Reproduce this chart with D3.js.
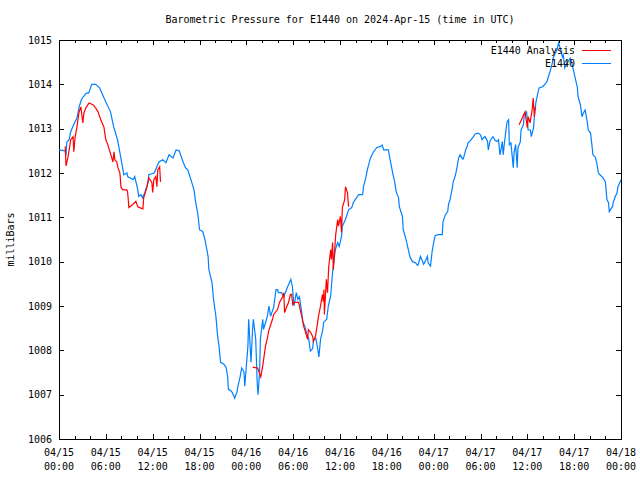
<!DOCTYPE html>
<html>
<head>
<meta charset="utf-8">
<script src="https://cdn.jsdelivr.net/npm/d3@7"></script>
<style>
  body { margin: 0; background: #fff; }
  svg text { font-family: "DejaVu Sans Mono", "Liberation Mono", monospace; font-size: 10px; fill: #000; }
</style>
</head>
<body>
<div id="root"></div>
<script>
// hours after 2024-04-15 00:00 UTC, pressure in mb
const stationData = [[0,1012.52],[0.8,1012.5],[0.9,1012.4],[1.0,1012.7],[1.3,1012.75],[1.5,1012.93],[1.9,1013.1],[2.3,1013.24],[2.6,1013.5],[2.9,1013.67],[3.5,1013.8],[3.8,1013.8],[4.2,1014.0],[4.7,1014.0],[5.2,1013.92],[5.6,1013.76],[6.0,1013.6],[6.6,1013.38],[7.0,1013.04],[7.5,1012.75],[7.8,1012.46],[8.2,1012.07],[8.3,1011.96],[8.7,1012.0],[8.8,1011.92],[9.5,1011.85],[9.7,1011.92],[10.1,1011.62],[10.2,1011.47],[10.5,1011.51],[10.7,1011.44],[11.0,1011.56],[11.4,1011.78],[11.5,1011.96],[12.2,1012.0],[12.8,1012.25],[13.3,1012.3],[13.7,1012.23],[14.1,1012.41],[14.6,1012.34],[15.0,1012.52],[15.4,1012.5],[15.9,1012.25],[16.2,1012.12],[16.5,1012.07],[16.9,1011.85],[17.3,1011.62],[17.5,1011.35],[17.8,1011.06],[18.0,1010.72],[18.4,1010.68],[18.7,1010.5],[19.1,1010.12],[19.2,1009.82],[19.6,1009.53],[19.8,1009.15],[20.1,1008.77],[20.3,1008.36],[20.5,1008.09],[20.7,1007.73],[21.1,1007.69],[21.4,1007.62],[21.6,1007.42],[21.7,1007.12],[22.1,1007.08],[22.4,1006.97],[22.5,1006.92],[22.8,1007.06],[22.9,1007.17],[23.2,1007.4],[23.4,1007.6],[23.7,1007.51],[23.8,1007.19],[24.0,1007.64],[24.2,1008.09],[24.3,1008.7],[24.6,1007.73],[24.8,1008.47],[24.9,1008.7],[25.2,1008.25],[25.4,1007.24],[25.5,1007.0],[25.7,1007.51],[25.8,1008.25],[26.1,1008.7],[26.2,1008.47],[26.5,1008.65],[26.7,1008.77],[26.9,1009.0],[27.1,1008.77],[27.5,1008.97],[27.8,1009.37],[28.0,1009.37],[28.1,1009.3],[28.5,1009.3],[28.8,1009.21],[29.0,1009.3],[29.3,1009.44],[29.7,1009.6],[29.9,1009.44],[30.1,1009.0],[30.2,1009.1],[30.4,1009.3],[30.6,1009.15],[30.8,1009.21],[31.1,1008.85],[31.2,1008.65],[31.5,1008.54],[31.7,1008.4],[32.0,1008.25],[32.2,1007.98],[32.5,1008.04],[32.6,1008.24],[32.9,1008.27],[33.1,1008.09],[33.3,1007.85],[33.5,1008.24],[33.8,1008.47],[33.9,1008.63],[34.3,1008.7],[34.5,1009.0],[34.8,1009.22],[35.0,1009.67],[35.2,1009.98],[35.4,1010.27],[35.7,1010.43],[35.9,1010.34],[36.2,1010.57],[36.3,1010.8],[36.7,1010.95],[37.1,1011.17],[37.5,1011.22],[37.7,1011.33],[38.1,1011.44],[38.4,1011.51],[38.9,1011.51],[39.0,1011.69],[39.3,1011.89],[39.5,1012.07],[39.9,1012.34],[40.3,1012.48],[40.7,1012.57],[41.2,1012.6],[41.4,1012.63],[41.6,1012.52],[42.2,1012.52],[42.3,1012.41],[42.6,1012.14],[42.8,1011.96],[43.0,1011.8],[43.2,1011.58],[43.5,1011.44],[43.6,1011.24],[44.0,1011.02],[44.1,1010.72],[44.4,1010.54],[44.6,1010.39],[44.8,1010.23],[45.0,1010.09],[45.3,1010.0],[45.7,1009.97],[45.9,1009.92],[46.0,1009.92],[46.3,1010.12],[46.6,1010.0],[46.7,1009.94],[46.9,1010.0],[47.2,1010.12],[47.3,1009.97],[47.6,1009.9],[47.8,1010.23],[48.0,1010.43],[48.2,1010.59],[48.6,1010.61],[49.1,1010.61],[49.2,1010.9],[49.5,1011.06],[49.8,1011.13],[49.9,1011.29],[50.1,1011.4],[50.4,1011.67],[50.5,1011.8],[50.8,1011.96],[51.0,1012.14],[51.2,1012.34],[51.4,1012.41],[51.7,1012.32],[51.8,1012.32],[52.1,1012.52],[52.3,1012.61],[52.4,1012.68],[52.7,1012.73],[53.1,1012.82],[53.3,1012.88],[53.7,1012.9],[54.0,1012.86],[54.2,1012.75],[54.4,1012.8],[54.6,1012.82],[54.9,1012.71],[55.0,1012.52],[55.2,1012.71],[55.5,1012.8],[55.6,1012.82],[55.9,1012.73],[56.1,1012.71],[56.3,1012.75],[56.5,1012.41],[56.8,1012.71],[56.9,1012.41],[57.2,1012.88],[57.4,1013.15],[57.6,1013.2],[57.7,1012.64],[57.9,1012.68],[58.2,1012.12],[58.3,1012.46],[58.5,1012.64],[58.7,1012.12],[58.8,1012.57],[59.1,1012.7],[59.2,1012.97],[59.5,1013.09],[59.6,1013.31],[59.9,1013.38],[60.0,1013.2],[60.1,1012.97],[60.4,1012.97],[60.5,1012.82],[60.8,1013.02],[60.9,1013.27],[61.1,1013.6],[61.3,1013.76],[61.5,1013.92],[61.9,1013.94],[62.2,1013.99],[62.5,1014.06],[62.7,1014.17],[62.9,1014.28],[63.2,1014.48],[63.3,1014.59],[63.6,1014.71],[63.8,1014.78],[64.0,1014.93],[64.2,1014.82],[64.5,1014.62],[64.6,1014.66],[64.8,1014.37],[65.1,1014.48],[65.5,1014.59],[65.7,1014.48],[65.9,1014.32],[66.1,1014.17],[66.4,1013.94],[66.5,1013.72],[66.8,1013.54],[67.0,1013.27],[67.2,1013.36],[67.4,1013.42],[67.7,1013.13],[67.8,1012.97],[68.1,1012.9],[68.3,1012.59],[68.4,1012.41],[68.7,1012.36],[68.9,1012.23],[69.1,1012.0],[69.3,1011.96],[69.7,1011.89],[70.0,1011.8],[70.2,1011.4],[70.4,1011.33],[70.5,1011.13],[70.9,1011.24],[71.0,1011.33],[71.2,1011.44],[71.5,1011.56],[71.6,1011.69],[71.9,1011.8],[72.0,1011.85]];

// null = gap in the analysis
const analysisData = [[0.8,1012.6],[0.9,1012.16],[1.15,1012.36],[1.3,1012.52],[1.5,1012.75],[1.8,1012.82],[1.9,1012.48],[2.05,1012.79],[2.3,1013.04],[2.55,1013.36],[2.8,1013.49],[3.05,1013.13],[3.2,1013.36],[3.45,1013.47],[3.85,1013.58],[4.35,1013.54],[4.75,1013.45],[5.0,1013.38],[5.35,1013.2],[5.75,1013.04],[6.0,1012.75],[6.25,1012.64],[6.65,1012.41],[6.9,1012.25],[7.05,1012.48],[7.15,1012.3],[7.4,1012.25],[7.55,1012.12],[7.8,1012.0],[7.95,1011.67],[8.2,1011.62],[8.7,1011.62],[8.8,1011.56],[8.95,1011.22],[9.45,1011.29],[9.85,1011.36],[10.1,1011.24],[10.35,1011.22],[10.75,1011.19],[10.85,1011.44],[11.25,1011.67],[11.5,1011.89],[11.9,1011.78],[12.0,1011.56],[12.15,1011.85],[12.4,1011.92],[12.55,1011.69],[12.65,1012.07],[12.9,1012.14],[13.0,1011.8],
  null,
  [24.8,1007.62],[25.45,1007.6],[25.85,1007.4],[26.1,1007.65],[26.45,1008.09],[26.75,1008.32],[26.85,1008.43],[27.35,1008.7],[27.5,1008.81],[28.0,1008.92],[28.25,1009.08],[28.65,1009.21],[28.8,1009.3],[28.9,1008.85],[29.15,1008.97],[29.4,1009.08],[29.65,1009.26],[29.8,1009.26],[29.95,1009.03],[30.2,1009.08],[30.7,1009.08],[30.95,1008.88],[31.2,1008.7],[31.35,1008.54],[31.6,1008.4],[31.85,1008.25],[31.95,1008.47],[32.25,1008.4],[32.5,1008.31],[32.6,1008.2],[32.85,1008.31],[33.1,1008.59],[33.25,1008.77],[33.5,1009.0],[33.75,1009.26],[33.85,1009.1],[33.95,1009.37],[34.0,1008.81],[34.25,1009.6],[34.4,1009.3],[34.55,1009.87],[34.8,1010.27],[34.9,1010.05],[35.05,1010.43],[35.15,1009.82],[35.45,1010.61],[35.7,1010.95],[35.8,1010.8],[36.05,1011.02],[36.2,1010.66],[36.3,1011.22],[36.6,1011.4],[36.7,1011.69],[36.95,1011.56],[37.1,1011.24],
  null,
  [58.95,1013.09],[59.35,1013.24],[59.7,1013.38],[60.0,1013.02],[60.1,1013.27],[60.35,1013.13],[60.6,1013.4],[60.75,1013.69],[60.9,1013.27],[61.0,1013.49]];

const yTicks = [1006, 1007, 1008, 1009, 1010, 1011, 1012, 1013, 1014, 1015];
const seriesNames = ['E1440 Analysis', 'E1440'];
const seriesColors = ['#ff0000', '#0080ff'];

const start = new Date(Date.UTC(2024, 3, 15, 0, 0));
const end = new Date(Date.UTC(2024, 3, 18, 0, 0));
const toDate = h => new Date(start.getTime() + h * 3600e3);

const W = 640, H = 480;
const margin = { top: 40, right: 19, bottom: 41, left: 59 };
const width = W - margin.left - margin.right;
const height = H - margin.top - margin.bottom;

const svg = d3.select('#root').append('svg')
    .attr('width', W)
    .attr('height', H);

const x = d3.scaleUtc().domain([start, end]).range([margin.left, margin.left + width]);
const y = d3.scaleLinear().domain([1006, 1015]).range([margin.top + height, margin.top]);

// title
svg.append('text')
    .attr('x', margin.left + width / 2)
    .attr('y', 23)
    .attr('text-anchor', 'middle')
    .text('Barometric Pressure for E1440 on 2024-Apr-15 (time in UTC)');

// axis label
svg.append('text')
    .attr('transform', `translate(14,${margin.top + height / 2}) rotate(-90)`)
    .attr('text-anchor', 'middle')
    .text('milliBars');

const majorX = d3.utcHour.every(6).range(start, d3.utcHour.offset(end, 1));
const minorX = d3.utcHour.every(2).range(start, d3.utcHour.offset(end, 1));

const tickAxis = (axis, scale, values, size, tx, ty) => {
    const g = svg.append('g')
        .attr('transform', `translate(${tx},${ty})`)
        .attr('shape-rendering', 'crispEdges')
        .call(axis(scale).tickValues(values).tickSize(-size).tickFormat(''));
    g.select('.domain').remove();
    g.selectAll('line').attr('stroke', '#000');
    return g;
};

// ticks on all four sides, pointing inward
tickAxis(d3.axisBottom, x, minorX, 3, 0, margin.top + height);
tickAxis(d3.axisTop, x, minorX, 3, 0, margin.top);
tickAxis(d3.axisBottom, x, majorX, 5, 0, margin.top + height);
tickAxis(d3.axisTop, x, majorX, 5, 0, margin.top);
tickAxis(d3.axisLeft, y, yTicks, 5, margin.left, 0);
tickAxis(d3.axisRight, y, yTicks, 5, margin.left + width, 0);

// tick labels
svg.append('g').selectAll('text')
    .data(yTicks)
    .join('text')
    .attr('x', margin.left - 7)
    .attr('y', d => y(d))
    .attr('dy', '0.35em')
    .attr('text-anchor', 'end')
    .text(d => d);

const fmtDay = d3.utcFormat('%m/%d');
const fmtTime = d3.utcFormat('%H:%M');
const xl = svg.append('g').selectAll('text')
    .data(majorX)
    .join('text')
    .attr('text-anchor', 'middle')
    .attr('transform', d => `translate(${x(d)},${margin.top + height + 17})`);
xl.append('tspan').attr('x', 0).attr('y', 0).text(d => fmtDay(d));
xl.append('tspan').attr('x', 0).attr('y', 14).text(d => fmtTime(d));

// frame
svg.append('rect')
    .attr('x', margin.left)
    .attr('y', margin.top)
    .attr('width', width)
    .attr('height', height)
    .attr('fill', 'none')
    .attr('stroke', '#000')
    .attr('shape-rendering', 'crispEdges');

const line = d3.line()
    .defined(d => d !== null)
    .x(d => x(toDate(d[0])))
    .y(d => y(d[1]));

svg.append('path')
    .datum(stationData)
    .attr('d', line)
    .attr('fill', 'none')
    .attr('stroke', seriesColors[1])
    .attr('stroke-width', 1.2);

svg.append('path')
    .datum(analysisData)
    .attr('d', line)
    .attr('fill', 'none')
    .attr('stroke', seriesColors[0])
    .attr('stroke-width', 1.2);

// legend
const legend = svg.append('g');
seriesNames.forEach((name, i) => {
    const ly = 50 + i * 13;
    legend.append('text')
        .attr('x', 575)
        .attr('y', ly)
        .attr('dy', '0.35em')
        .attr('text-anchor', 'end')
        .text(name);
    legend.append('line')
        .attr('x1', 582).attr('x2', 611)
        .attr('y1', ly).attr('y2', ly)
        .attr('stroke', seriesColors[i])
        .attr('stroke-width', 1)
        .attr('shape-rendering', 'crispEdges');
});
</script>
</body>
</html>
